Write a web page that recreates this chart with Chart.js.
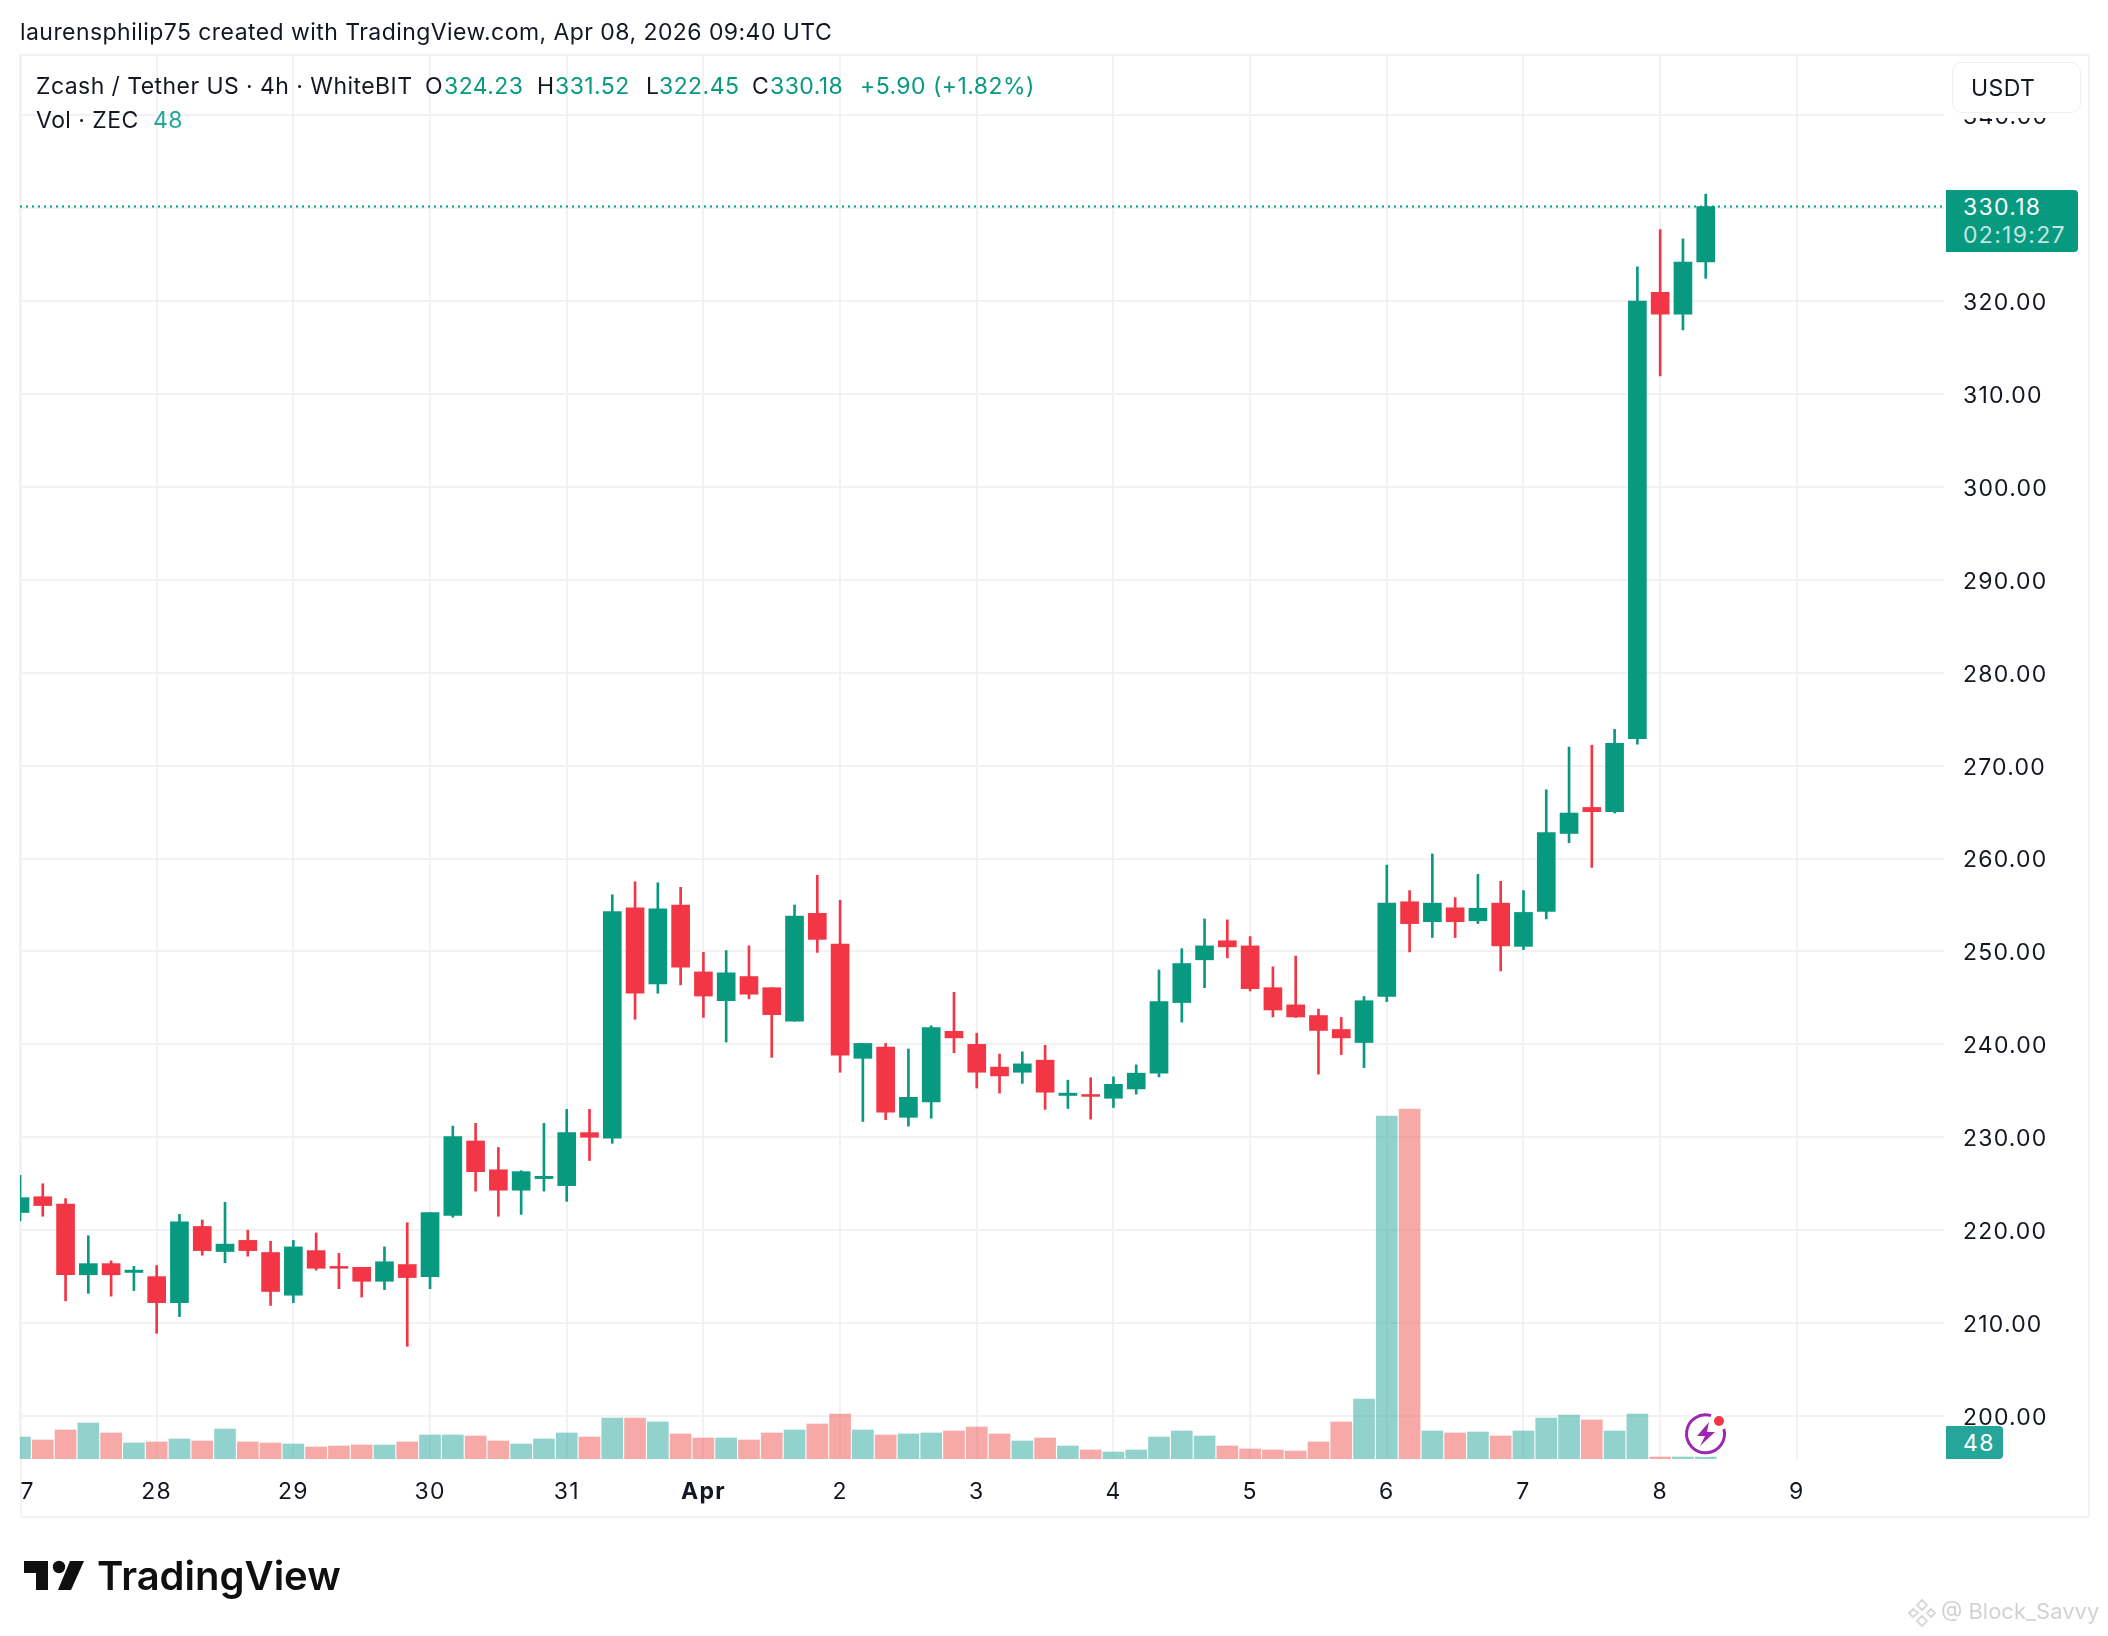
<!DOCTYPE html>
<html>
<head>
<meta charset="utf-8">
<title>ZECUSDT</title>
<script src="https://cdn.jsdelivr.net/npm/chart.js@4"></script>
<style>
  html, body { margin: 0; padding: 0; background: #fff; }
  #page { position: relative; width: 2108px; height: 1636px; overflow: hidden; font-family: Inter, sans-serif; color: #131722; }
  #myChart { position: absolute; left: 0; top: 0; }
  .t { position: absolute; white-space: nowrap; font-size: 23px; line-height: 28px; letter-spacing: .44px; }
  .g { color: #089981; }
  .tag { letter-spacing: 1.3px; }
  #pane { position: absolute; left: 20px; top: 54px; width: 2066px; height: 1460px; border: 2px solid #f2f2f2; border-radius: 2px; }
  #leftCut { position: absolute; left: 0; top: 1460px; width: 20px; height: 56px; background: #fff; }
  #unit { position: absolute; left: 1952px; top: 62px; width: 127px; height: 49px; background: #fff; border: 1.5px solid #f0f0f0; border-radius: 10px; box-shadow: 0 5px 0 #fff; }
  #lastTag { position: absolute; left: 1946px; top: 190px; width: 132px; height: 62px; background: #089981; border-radius: 0 4px 4px 0; }
  #volTag { position: absolute; left: 1946px; top: 1426px; width: 57px; height: 33px; background: #26a69a; border-radius: 0 4px 4px 0; }
</style>
</head>
<body>
<div id="page">
  <div id="pane"></div>
  <canvas id="myChart" width="2108" height="1636"></canvas>
  <div id="leftCut"></div>

  <div class="t" style="left:20px;top:18px">laurensphilip75 created with TradingView.com, Apr 08, 2026 09:40 UTC</div>

  <div class="t" style="left:36px;top:72px">Zcash / Tether US · 4h · WhiteBIT</div>
  <div class="t" style="left:425px;top:72px">O</div><div class="t g" style="left:444px;top:72px">324.23</div>
  <div class="t" style="left:537px;top:72px">H</div><div class="t g" style="left:555px;top:72px">331.52</div>
  <div class="t" style="left:646px;top:72px">L</div><div class="t g" style="left:659px;top:72px">322.45</div>
  <div class="t" style="left:752px;top:72px">C</div><div class="t g" style="left:770px;top:72px">330.18</div>
  <div class="t g" style="left:860px;top:72px">+5.90 (+1.82%)</div>
  <div class="t" style="left:36px;top:106px">Vol · ZEC</div><div class="t" style="left:153px;top:106px;color:#26a69a">48</div>

  <div id="unit"></div>
  <div class="t" style="left:1971px;top:74px">USDT</div>

  <div id="lastTag"></div>
  <div class="t tag" style="left:1963px;top:193px;color:#fff">330.18</div>
  <div class="t tag" style="left:1963px;top:221px;color:#c2e6df">02:19:27</div>

  <div id="volTag"></div>
  <div class="t tag" style="left:1963px;top:1429px;color:#fff">48</div>

  <!-- bolt badge -->
  <svg style="position:absolute;left:1680px;top:1408px" width="56" height="56" viewBox="0 0 56 56">
    <circle cx="25" cy="26" r="23" fill="#fff"/>
    <path d="M 31 7.6 A 19 19 0 1 0 43.9 21" fill="none" stroke="#9c27b0" stroke-width="3"/>
    <path d="M 29 14 L 17 28 L 25 28 L 20 38 L 35 24 L 27 24 Z" fill="#9c27b0"/>
    <circle cx="39" cy="13" r="7" fill="#fff"/>
    <circle cx="39" cy="13" r="5" fill="#f23645"/>
  </svg>

  <!-- logo -->
  <svg style="position:absolute;left:24px;top:1560px" width="62" height="32" viewBox="0 0 62 32">
    <path d="M0 1 H24 V30 H12 V13 H0 Z" fill="#0f0f0f"/>
    <circle cx="35" cy="7" r="6.2" fill="#0f0f0f"/>
    <path d="M46 1 H60 L47 30 H34 Z" fill="#0f0f0f"/>
  </svg>
  <div class="t" style="left:97px;top:1552px;font-size:40px;line-height:48px;font-weight:600;color:#0f0f0f;letter-spacing:0">TradingView</div>

  <!-- watermark -->
  <svg style="position:absolute;left:1908px;top:1598px" width="28" height="30" viewBox="0 0 28 30">
    <path d="M14 2 L19 7 L14 12 L9 7 Z M5 11 L10 15 L5 19 L1 15 Z M23 11 L27 15 L23 19 L19 15 Z M14 18 L19 23 L14 28 L9 23 Z" fill="none" stroke="#d9d9d9" stroke-width="2"/>
  </svg>
  <div class="t" style="left:1941px;top:1597px;color:#d2d2d2;font-size:22px;letter-spacing:0">@ Block_Savvy</div>
</div>

<script>
// 4h bars
const opens = [221.9,223.6,222.8,215.2,216.4,215.45,215.0,212.2,220.4,217.7,218.9,217.6,213.0,217.8,216.1,216.0,214.5,216.3,215.0,221.6,229.6,226.5,224.3,225.55,224.8,230.5,229.9,254.7,246.5,255.0,247.8,244.7,247.3,246.1,242.5,254.1,250.8,238.5,239.7,232.15,233.8,241.4,240.0,237.55,237.0,238.3,234.5,234.6,234.2,235.2,236.9,244.5,249.1,251.15,250.6,246.1,244.25,243.1,241.6,240.2,245.15,255.35,253.2,254.7,253.3,255.2,250.55,254.3,262.7,265.5,265.05,272.9,320.95,318.6,324.23];
const highs = [225.9,225.0,223.4,219.4,216.7,216.1,216.2,221.7,221.1,223.0,220.0,218.8,218.9,219.7,217.5,216.0,218.2,220.8,221.9,231.2,231.5,228.9,226.4,231.5,233.0,233.0,256.1,257.5,257.4,256.9,249.9,250.1,250.6,246.1,255.0,258.2,255.5,240.1,240.1,239.5,242.0,245.6,241.2,238.95,239.2,239.9,236.15,236.4,236.5,237.8,248.0,250.3,253.5,253.4,251.6,248.35,249.5,243.8,242.9,245.15,259.3,256.55,260.5,255.8,258.3,257.55,256.55,267.4,272.0,272.2,273.9,323.7,327.7,326.7,331.52];
const lows = [221.0,221.5,212.4,213.2,212.9,213.5,208.9,210.7,217.3,216.5,217.2,211.9,212.2,215.7,213.7,212.8,213.6,207.5,213.7,221.4,224.2,221.5,221.7,224.2,223.1,227.5,229.35,242.7,245.5,246.4,242.9,240.25,244.9,238.6,242.5,249.9,237.0,231.7,231.9,231.2,232.05,239.1,235.3,234.75,235.8,233.0,233.1,231.95,233.2,234.65,236.5,242.4,246.1,249.3,245.75,242.95,242.9,236.8,238.9,237.5,244.6,249.95,251.5,251.5,253.0,247.9,250.2,253.5,261.7,259.05,264.9,272.3,311.95,316.9,322.45];
const closes = [223.5,222.65,215.2,216.4,215.2,215.7,212.2,220.9,217.8,218.5,217.8,213.4,218.2,215.9,215.9,214.5,216.6,214.9,221.9,230.07,226.3,224.3,226.3,225.8,230.5,230.0,254.3,245.5,254.6,248.3,245.2,247.7,245.4,243.2,253.8,251.3,238.85,240.1,232.7,234.3,241.8,240.7,237.0,236.6,237.9,234.85,234.75,234.4,235.7,236.9,244.6,248.7,250.6,250.5,246.0,243.7,242.95,241.5,240.7,244.7,255.2,253.0,255.2,253.2,254.65,250.6,254.2,262.8,264.9,265.05,272.4,320.0,318.6,324.2,330.18];
const volumes = [528,456,696,864,624,384,408,480,432,720,408,384,360,288,312,336,336,408,576,576,552,432,360,480,624,528,984,984,888,600,504,504,456,624,696,840,1080,696,576,600,624,672,768,600,432,504,312,216,168,216,528,672,552,312,240,216,192,408,888,1440,8232,8400,672,624,648,552,672,984,1056,936,672,1080,48,48,48];

// axis labels
const dayLabels = ['27','28','29','30','31','Apr','2','3','4','5','6','7','8','9'];
const dayTicks = [0,6,12,18,24,30,36,42,48,54,60,66,72,78];
const priceTicks = [200,210,220,230,240,250,260,270,280,290,300,310,320,330,340];
const lastPrice = 330.18;

const upColor = '#089981';
const downColor = '#f23645';
const gridColor = '#f2f2f2';
const tickFont = 'Inter, sans-serif';

const idx = opens.map((v, i) => i);
const candleColors = idx.map(i => closes[i] >= opens[i] ? upColor : downColor);
const volColors = idx.map(i => closes[i] >= opens[i] ? 'rgba(38,166,154,.5)' : 'rgba(239,83,80,.5)');

const xMax = 84.46;

// tick text in the reference runs a bit wide
const tickSpacing = {
    id: 'tickSpacing',
    beforeDraw: chart => { chart.ctx.letterSpacing = '1.2px'; }
};

new Chart(document.getElementById('myChart'), {
    type: 'bar',
    plugins: [tickSpacing],
    data: {
        datasets: [
            {
                type: 'line',
                data: [{ x: 0, y: lastPrice }, { x: xMax, y: lastPrice }],
                borderColor: upColor,
                borderWidth: 2,
                borderDash: [2, 4],
                pointRadius: 0,
                yAxisID: 'y',
                order: 0
            },
            {
                data: idx.map(i => ({ x: i, y: [opens[i], closes[i]] })),
                backgroundColor: candleColors,
                barThickness: 18,
                grouped: false,
                yAxisID: 'y',
                order: 1
            },
            {
                data: idx.map(i => ({ x: i, y: [lows[i], highs[i]] })),
                backgroundColor: candleColors,
                barThickness: 2,
                grouped: false,
                yAxisID: 'y',
                order: 2
            },
            {
                data: idx.map(i => ({ x: i, y: volumes[i] })),
                backgroundColor: volColors,
                barThickness: 21,
                grouped: false,
                yAxisID: 'vol',
                order: 3
            }
        ]
    },
    options: {
        responsive: false,
        animation: false,
        devicePixelRatio: 1,
        layout: { padding: { left: 20, top: 54, right: 0, bottom: 0 } },
        plugins: { legend: { display: false }, tooltip: { enabled: false } },
        scales: {
            x: {
                type: 'linear',
                min: 0,
                max: xMax,
                offset: false,
                afterFit: s => { s.height = 177; s.paddingLeft = 0; s.paddingRight = 0; },
                afterBuildTicks: s => { s.ticks = dayTicks.map(v => ({ value: v })); },
                border: { display: false },
                grid: { color: gridColor, lineWidth: 2, drawTicks: false, offset: false },
                ticks: {
                    autoSkip: false,
                    maxRotation: 0,
                    padding: 19,
                    color: '#131722',
                    font: ctx => ({ family: tickFont, size: 23, weight: dayLabels[ctx.index] === 'Apr' ? 'bold' : 'normal' }),
                    callback: v => dayLabels[dayTicks.indexOf(v)]
                }
            },
            y: {
                position: 'right',
                min: 195.37,
                max: 346.6,
                afterFit: s => { s.width = 164; s.paddingTop = 0; s.paddingBottom = 0; },
                afterBuildTicks: s => { s.ticks = priceTicks.map(v => ({ value: v })); },
                border: { display: false },
                grid: { color: gridColor, lineWidth: 2, drawTicks: false },
                ticks: {
                    crossAlign: 'near',
                    padding: 19,
                    labelOffset: 2,
                    color: '#131722',
                    font: { family: tickFont, size: 23 },
                    callback: v => v.toFixed(2)
                }
            },
            vol: {
                display: false,
                min: 0,
                max: 33720
            }
        }
    }
});
</script>
</body>
</html>
